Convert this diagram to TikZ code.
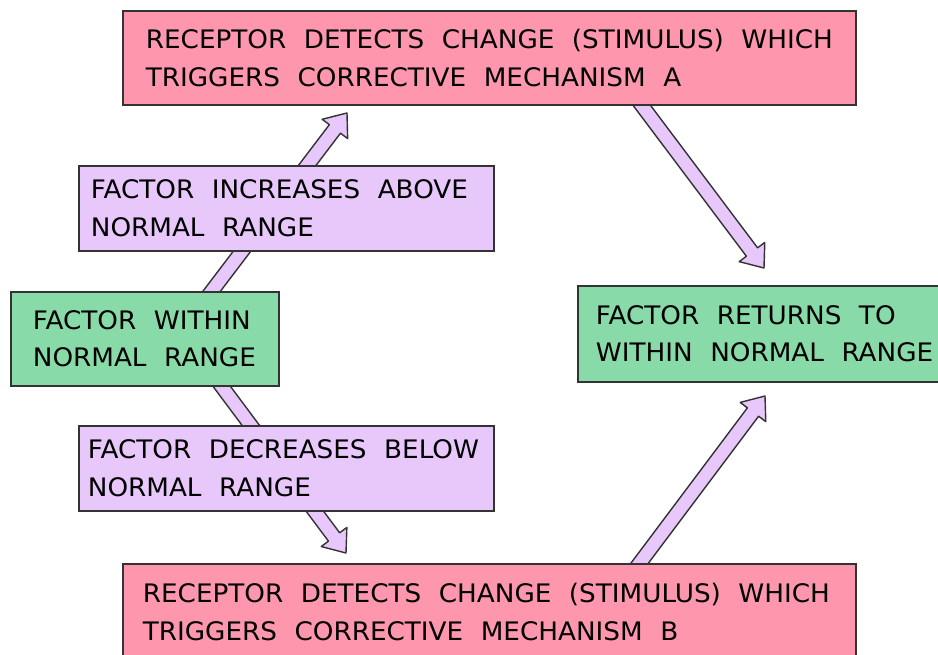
\documentclass[tikz,border=0pt]{standalone}
\usepackage{fontspec}
\setmainfont[FakeStretch=1.03]{DejaVu Sans}
\usetikzlibrary{calc}

\definecolor{recpink}{HTML}{FE97AD}
\definecolor{factlilac}{HTML}{E8C8FA}
\definecolor{normgreen}{HTML}{88DBA8}
\definecolor{edgegrey}{HTML}{333333}

\newcommand{\boxline}[1]{\hbox{\spaceskip=10pt\xspaceskip=10pt\relax #1}}
\newcommand{\blockarrow}[2]{%
  \coordinate (#2-h) at ($(#2)!0.4cm!(#1)$);
  \filldraw[flowarrow] ($(#1)!0.14cm!90:(#2)$) -- ($(#2-h)!0.14cm!90:(#2)$)
    -- ($(#2-h)!0.32cm!90:(#2)$) -- (#2) -- ($(#2-h)!0.32cm!-90:(#2)$)
    -- ($(#2-h)!0.14cm!-90:(#2)$) -- ($(#1)!0.14cm!-90:(#2)$) -- cycle;}

\begin{document}
\begin{tikzpicture}[x=0.02cm,y=-0.02cm,
  flowarrow/.style={fill=factlilac,draw=edgegrey,line width=0.8pt,line join=round},
  box/.style={draw=edgegrey,line width=1pt,anchor=north west,align=left,
    font=\fontsize{14.5}{21.3}\selectfont},
  receptor/.style={box,fill=recpink,minimum height=1.88cm},
  change/.style={box,fill=factlilac,minimum height=1.7cm},
  normal/.style={box,fill=normgreen,minimum height=1.88cm}]
\useasboundingbox (0,0) rectangle (938,654);
\clip (0,0) rectangle (938,654);

\coordinate (up-s) at (205,300);   \coordinate (up-t) at (347,113);
\coordinate (fix-s) at (634,95);   \coordinate (fix-t) at (764,268);
\coordinate (down-s) at (214,376); \coordinate (down-t) at (346,553);
\coordinate (back-s) at (633,572); \coordinate (back-t) at (765,396);

\blockarrow{up-s}{up-t}
\blockarrow{fix-s}{fix-t}
\blockarrow{down-s}{down-t}
\blockarrow{back-s}{back-t}

\path (122,10) node[receptor,inner xsep=0.46cm,text width=13.74cm](mechA){\boxline{RECEPTOR DETECTS CHANGE (STIMULUS) WHICH}\\\boxline{TRIGGERS CORRECTIVE MECHANISM A}}
  (78,165) node[change,inner xsep=0.24cm,text width=7.82cm](increase){\boxline{FACTOR INCREASES ABOVE}\\\boxline{NORMAL RANGE}}
  (10,291) node[normal,inner xsep=0.44cm,text width=4.48cm](within){\boxline{FACTOR WITHIN}\\\boxline{NORMAL RANGE}}
  (78,425) node[change,inner xsep=0.18cm,text width=7.94cm](decrease){\boxline{FACTOR DECREASES BELOW}\\\boxline{NORMAL RANGE}}
  (577,285) node[normal,inner xsep=0.36cm,text width=6.68cm,minimum height=1.92cm](returns){\boxline{FACTOR RETURNS TO}\\\boxline{WITHIN NORMAL RANGE}}
  (122,563) node[receptor,inner xsep=0.4cm,text width=13.86cm,minimum height=1.92cm](mechB){\boxline{RECEPTOR DETECTS CHANGE (STIMULUS) WHICH}\\\boxline{TRIGGERS CORRECTIVE MECHANISM B}};
\end{tikzpicture}
\end{document}
